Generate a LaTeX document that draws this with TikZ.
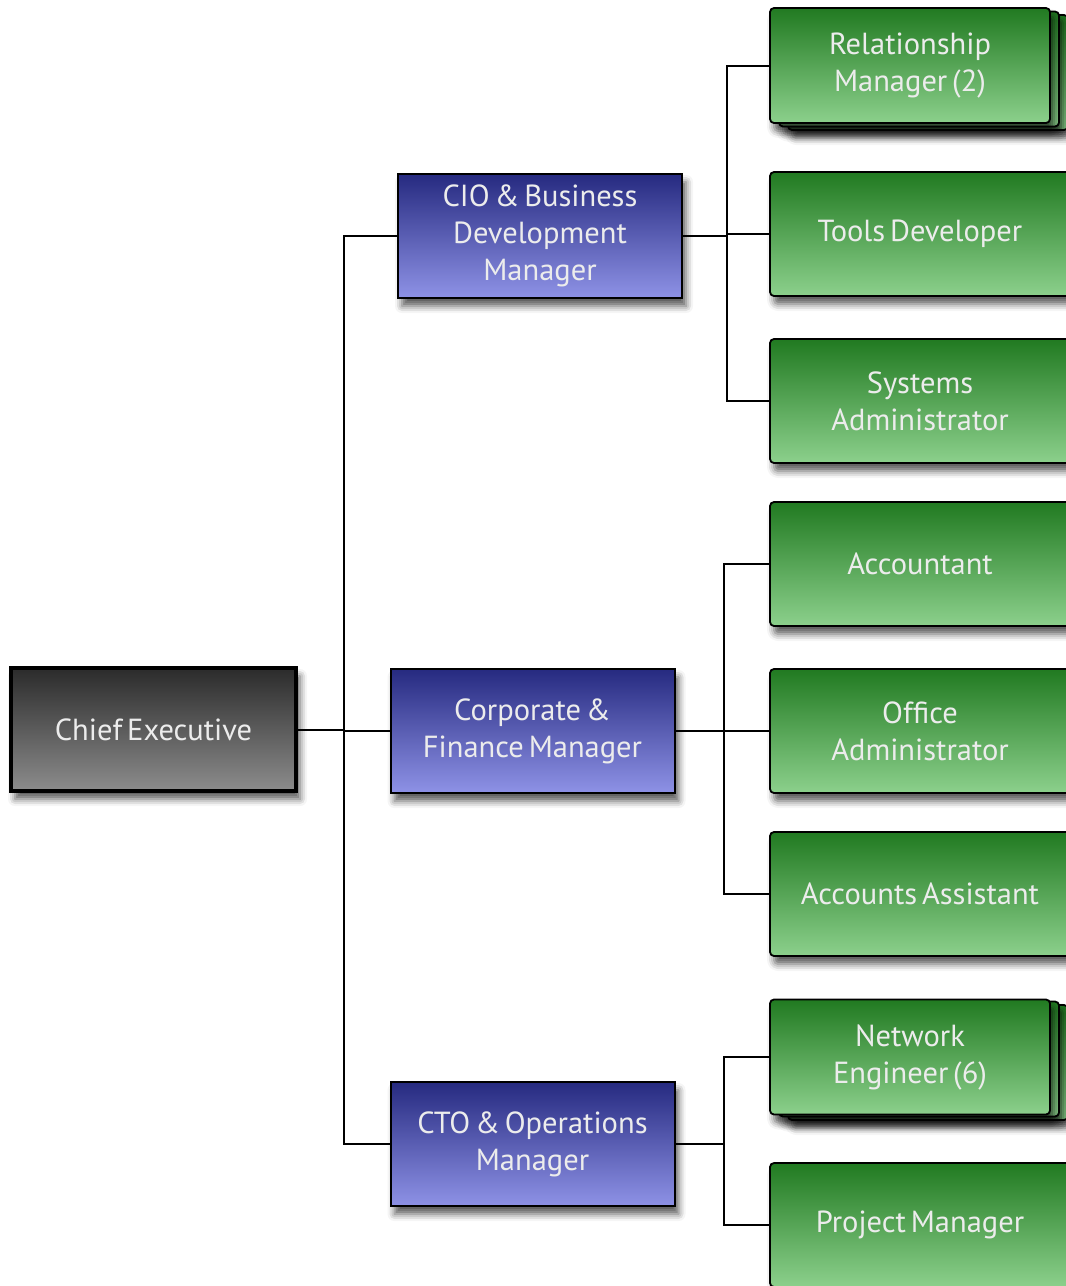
\documentclass[tikz,border=0pt]{standalone}
\usepackage{fontspec}
\setmainfont{PT Sans}[WordSpace=0.6]
\usetikzlibrary{shadows.blur}
\definecolor{ceT}{HTML}{2B2B2B}
\definecolor{ceB}{HTML}{8C8C8C}
\definecolor{mT}{HTML}{262A80}
\definecolor{mB}{HTML}{8E92E6}
\definecolor{gT}{HTML}{217A21}
\definecolor{gB}{HTML}{8CD08C}
\definecolor{txt}{HTML}{ECECEC}
\begin{document}
\begin{tikzpicture}[x=1pt,y=-1pt,
  box/.style={draw=black, line width=2pt, text=txt, align=center,
    font=\fontsize{30.5}{37}\selectfont, inner sep=0pt,
    blur shadow={shadow xshift=4pt, shadow yshift=-8pt, shadow blur radius=7pt, shadow opacity=65}},
  ce/.style={box, line width=4pt, top color=ceT, bottom color=ceB, minimum width=285pt, minimum height=123pt},
  mgr/.style={box, top color=mT, bottom color=mB, minimum width=284pt, minimum height=124pt},
  grn/.style={box, rounded corners=4pt, line width=1.8pt, top color=gT, bottom color=gB, minimum width=300pt, minimum height=124pt},
  stk/.style={grn, minimum width=280pt, minimum height=115pt},
  ln/.style={line width=2pt, draw=black}]
\clip (0,0) rectangle (1066,1286);
\useasboundingbox (0,0) rectangle (1066,1286);

% level 0
\node[ce] (ce) at (153.5,729.5) {Chief Executive};
% managers
\node[mgr] (cio) at (540,236) {CIO \& Business\\Development\\Manager};
\node[mgr] (corp) at (532.5,731) {Corporate \&\\Finance Manager};
\node[mgr] (cto) at (532.5,1144) {CTO \& Operations\\Manager};
% green staff
\node[stk] (rm3) at (928,72.5) {};
\node[stk] (rm2) at (919,69) {};
\node[stk] (rm) at (910,65.5) {Relationship\\Manager (2)};
\node[grn] (td) at (920,234) {Tools Developer};
\node[grn] (sa) at (920,401) {Systems\\Administrator};
\node[grn] (acc) at (920,564) {Accountant};
\node[grn] (oa) at (920,731) {Office\\Administrator};
\node[grn] (aa) at (920,894) {Accounts Assistant};
\node[stk] (ne3) at (928,1062.5) {};
\node[stk] (ne2) at (919,1059) {};
\node[stk] (ne) at (910,1057) {Network\\Engineer (6)};
\node[grn] (pm) at (920,1225) {Project Manager};

% connectors
\coordinate (b1) at (344,0);
\coordinate (b2) at (727,0);
\coordinate (b3) at (724,0);
\coordinate (b4) at (724,0);
\draw[ln] (ce.east) -- (ce.east -| b1);
\draw[ln] (cio.west) -| (b1 |- cto.west) -- (cto.west);
\draw[ln] (corp.west) -- (corp.west -| b1);

\draw[ln] (cio.east) -- (cio.east -| b2);
\draw[ln] (rm.west) -| (b2 |- sa.west) -- (sa.west);
\draw[ln] (td.west) -- (td.west -| b2);

\draw[ln] (corp.east) -- (corp.east -| b3);
\draw[ln] (acc.west) -| (b3 |- aa.west) -- (aa.west);
\draw[ln] (oa.west) -- (oa.west -| b3);

\draw[ln] (cto.east) -- (cto.east -| b4);
\draw[ln] (ne.west) -| (b4 |- pm.west) -- (pm.west);
\end{tikzpicture}
\end{document}
